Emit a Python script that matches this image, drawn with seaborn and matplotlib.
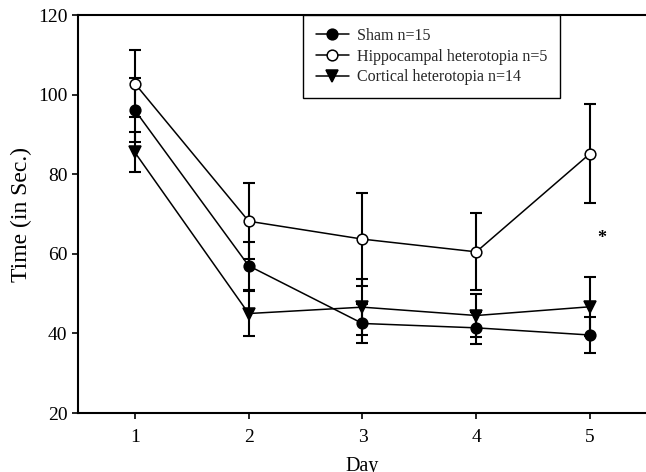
import matplotlib
matplotlib.use("Agg")
import matplotlib.pyplot as plt
import seaborn as sns
import pandas as pd
import numpy as np

days = [1, 2, 3, 4, 5]
sham_mean = [96.1, 57.0, 42.5, 41.4, 39.6]
sham_err = [8.0, 6.0, 5.0, 4.0, 4.6]
hippo_mean = [102.8, 68.2, 63.7, 60.5, 85.2]
hippo_err = [8.4, 9.5, 11.7, 9.7, 12.4]
cort_mean = [85.5, 45.0, 46.6, 44.5, 46.7]
cort_err = [5.0, 5.6, 7.0, 5.5, 7.4]
labels = ["Sham n=15", "Hippocampal heterotopia n=5", "Cortical heterotopia n=14"]
yticks = [20, 40, 60, 80, 100, 120]
star_pos = (5.105, 63.8)

sns.set_theme(style="ticks")
plt.rcParams['font.family'] = ['Liberation Serif', 'DejaVu Serif']

fig = plt.figure(figsize=(6.46, 4.72), dpi=100)
ax = fig.add_axes([0.1207, 0.125, 0.8808, 0.843])

series = [
    (labels[0], sham_mean, sham_err, "o", "black", 7.7),
    (labels[1], hippo_mean, hippo_err, "o", "white", 7.7),
    (labels[2], cort_mean, cort_err, "v", "black", 8),
]

for lab, m, e, mk, fc, ms in series:
    df = pd.DataFrame({"Day": days, "Time": m})
    ax.errorbar(df["Day"], df["Time"], yerr=e, fmt="none", ecolor="black",
                elinewidth=1.5, capsize=4, capthick=1.5, zorder=2)
    sns.lineplot(data=df, x="Day", y="Time", ax=ax, color="black", lw=1.1,
                 marker=mk, markersize=ms, markerfacecolor=fc,
                 markeredgecolor="black", markeredgewidth=1.1, label=lab,
                 zorder=3)

ax.text(star_pos[0], star_pos[1], "*", fontsize=13, fontweight="bold",
        ha="center", va="center", color="black")

ax.set_xlim(0.5, 5.5)
ax.set_ylim(20, 120)
ax.set_xticks(days)
ax.set_yticks(yticks)
ax.tick_params(axis="both", labelsize=14, length=4.5, width=1.2, color="black",
               labelcolor="black", direction="out")
ax.tick_params(axis="x", pad=7)
ax.tick_params(axis="y", pad=3)
ax.set_xlabel("Day", fontsize=14.5, color="black", labelpad=8)
ax.set_ylabel("Time (in Sec.)", fontsize=17, color="black", labelpad=4)

for s in ["left", "bottom", "top"]:
    ax.spines[s].set_visible(True)
    ax.spines[s].set_color("black")
    ax.spines[s].set_linewidth(1.5)
ax.spines["right"].set_visible(False)

leg = ax.legend(loc="upper left", bbox_to_anchor=(0.395, 1.0), frameon=True,
                fancybox=False, edgecolor="black", fontsize=11.5,
                handlelength=2.1, labelspacing=0.3, borderpad=0.8,
                handletextpad=0.5, borderaxespad=0.0)
leg.get_frame().set_linewidth(1.0)
leg.get_frame().set_alpha(1)

fig.savefig("out.png", dpi=100)
